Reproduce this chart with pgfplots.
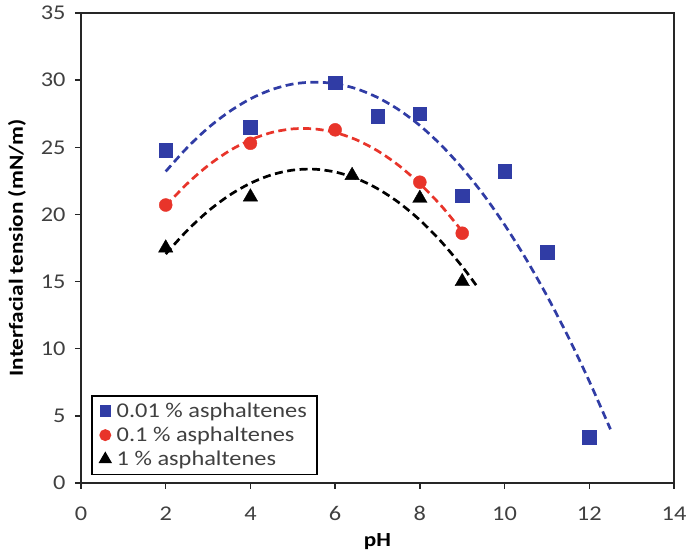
\documentclass[border=0pt]{standalone}
\usepackage{pgfplots}
\pgfplotsset{compat=1.18}
\usetikzlibrary{calc}
\usepackage{fontspec}
\setmainfont{Carlito}[FakeStretch=1.16]
\definecolor{sqblue}{RGB}{48,60,165}
\definecolor{cred}{RGB}{232,52,42}
\definecolor{tickgray}{RGB}{64,64,64}
\begin{document}
\begin{tikzpicture}
\begin{axis}[
  name=ax,
  width=593pt, height=470pt, scale only axis,
  xmin=0, xmax=14, ymin=0, ymax=35,
  xtick={0,2,...,14}, ytick={0,5,...,35},
  tick align=outside, tick pos=left, major tick length=6pt,
  axis line style={line width=1.7pt, black!85},
  every tick/.style={line width=1.3pt, black!85},
  tick label style={font=\fontsize{21}{25}\selectfont, text=tickgray},
  yticklabel style={xshift=-6pt},
  xticklabel style={yshift=-14pt},
  /pgf/number format/assume math mode=true,
  xlabel={\textbf{pH}}, ylabel={\textbf{Interfacial tension (mN/m)}},
  label style={font=\fontsize{20}{24}\selectfont},
  xlabel style={yshift=-6pt},
  ylabel style={yshift=8pt},
  legend style={at={(0.017,0.017)}, anchor=south west, draw=black, line width=1.5pt,
    font=\fontsize{21}{25}\selectfont, text=tickgray, inner xsep=8pt, inner ysep=5pt,
    row sep=4pt},
  legend cell align=left,
]
% trend lines
\addplot[sqblue, line width=2.7pt, dash pattern=on 8pt off 4.5pt, smooth, forget plot] coordinates {
(2,23.20) (2.5,24.95) (3,26.44) (3.5,27.65) (4,28.61) (4.5,29.29) (5,29.71) (5.5,29.85)
(6,29.74) (6.5,29.36) (7,28.71) (7.5,27.80) (8,26.62) (8.5,25.17) (9,23.45) (9.5,21.48)
(10,19.23) (10.5,16.72) (11,13.94) (11.5,10.90) (12,7.58) (12.5,4.00)};
\addplot[cred, line width=2.7pt, dash pattern=on 8pt off 4.5pt, smooth, forget plot] coordinates {
(2,20.64) (2.5,22.27) (3,23.64) (3.5,24.73) (4,25.55) (4.5,26.10) (5,26.37) (5.5,26.37)
(6,26.10) (6.5,25.56) (7,24.74) (7.5,23.65) (8,22.28) (8.5,20.66) (9,18.74)};
\addplot[black, line width=2.7pt, dash pattern=on 8pt off 4.5pt, smooth, forget plot] coordinates {
(2,17.05) (2.5,18.78) (3,20.24) (3.5,21.42) (4,22.32) (4.5,22.95) (5,23.30) (5.5,23.37)
(6,23.16) (6.5,22.68) (7,21.92) (7.5,20.89) (8,19.58) (8.5,17.99) (9,16.12) (9.35,14.64)};
% data
\addplot[only marks, mark=square*, mark size=6.8pt, sqblue, mark options={fill=sqblue, draw=sqblue},
  legend image post style={mark size=5pt}] coordinates {
(2,24.8) (4,26.5) (6,29.8) (7,27.3) (8,27.5) (9,21.4) (10,23.2) (11,17.2) (12,3.4)};
\addlegendentry{\hspace*{4pt}0.01 \% asphaltenes}
\addplot[only marks, mark=*, mark size=6.5pt, cred, mark options={fill=cred, draw=cred},
  legend image post style={mark size=5.2pt}] coordinates {
(2,20.7) (4,25.3) (6,26.3) (8,22.4) (9,18.6)};
\addlegendentry{\hspace*{4pt}0.1 \% asphaltenes}
\addplot[only marks, mark=triangle*, mark size=8.3pt, black, mark options={fill=black},
  legend image post style={mark size=6.3pt}] coordinates {
(2,17.5) (4,21.3) (6.4,22.9) (8,21.2) (9,15.0)};
\addlegendentry{\hspace*{4pt}1 \% asphaltenes}
\end{axis}
\pgfresetboundingbox
\path ($(ax.south west)+(-81pt,-70pt)$) rectangle ($(ax.north east)+(14pt,13pt)$);
\end{tikzpicture}
\end{document}
